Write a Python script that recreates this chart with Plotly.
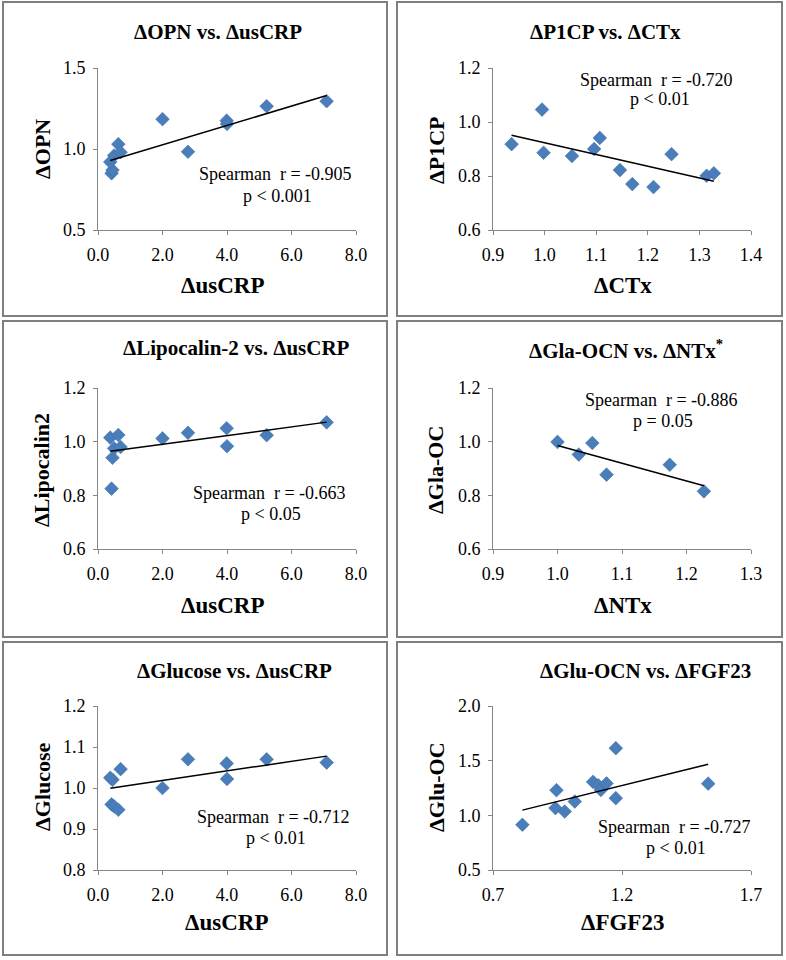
import plotly.graph_objects as go

W, H = 786, 960

# ---------------- data ----------------
uscrp = [0.42, 0.45, 0.38, 0.50, 0.63, 0.70, 2.00, 2.79, 3.99, 4.00, 5.23, 7.09]
opn = [0.85, 0.87, 0.92, 0.96, 1.03, 0.98, 1.184, 0.983, 1.175, 1.155, 1.264, 1.295]
lipocalin2 = [0.825, 0.94, 1.015, 0.975, 1.025, 0.98, 1.012, 1.033, 1.05, 0.983, 1.024, 1.072]
glucose = [0.96, 1.02, 1.025, 0.955, 0.947, 1.046, 1.0, 1.07, 1.06, 1.022, 1.07, 1.062]

ctx = [0.936, 0.995, 0.998, 1.053, 1.096, 1.107, 1.146, 1.170, 1.211, 1.246, 1.314, 1.328]
p1cp = [0.918, 1.046, 0.886, 0.874, 0.900, 0.941, 0.822, 0.770, 0.759, 0.881, 0.801, 0.810]

ntx = [1.0, 1.033, 1.054, 1.076, 1.174, 1.227]
gla_oc = [0.999, 0.952, 0.995, 0.877, 0.914, 0.815]

fgf23 = [0.814, 0.946, 0.942, 0.978, 1.017, 1.088, 1.108, 1.118, 1.140, 1.176, 1.176, 1.534]
glu_oc = [0.914, 1.23, 1.066, 1.035, 1.126, 1.306, 1.275, 1.232, 1.292, 1.157, 1.614, 1.29]

# linear trend-line coefficients (slope, intercept)
trend_opn = [0.0598, 0.906]
trend_p1cp = [-0.4357, 1.359]
trend_lipo = [0.0162, 0.958]
trend_gla = [-0.661, 1.647]
trend_glucose = [0.01167, 0.995]
trend_glu = [0.583, 0.573]

titles = ["ΔOPN vs. ΔusCRP", "ΔP1CP vs. ΔCTx", "ΔLipocalin-2 vs. ΔusCRP",
          "ΔGla-OCN vs. ΔNTx<sup>*</sup>", "ΔGlucose vs. ΔusCRP", "ΔGlu-OCN vs. ΔFGF23"]
xtitles = ["ΔusCRP", "ΔCTx", "ΔusCRP", "ΔNTx", "ΔusCRP", "ΔFGF23"]
ytitles = ["ΔOPN", "ΔP1CP", "ΔLipocalin2", "ΔGla-OC", "ΔGlucose", "ΔGlu-OC"]
stat_r = ["Spearman  r = -0.905", "Spearman  r = -0.720", "Spearman  r = -0.663",
          "Spearman  r = -0.886", "Spearman  r = -0.712", "Spearman  r = -0.727"]
stat_p = ["p &lt; 0.001", "p &lt; 0.01", "p &lt; 0.05", "p = 0.05", "p &lt; 0.01", "p &lt; 0.01"]

x_ranges = [[0, 8], [0.9, 1.4], [0, 8], [0.9, 1.3], [0, 8], [0.7, 1.7]]
x_dticks = [2, 0.1, 2, 0.1, 2, 0.5]
y_ranges = [[0.5, 1.5], [0.6, 1.2], [0.6, 1.2], [0.6, 1.2], [0.8, 1.2], [0.5, 2.0]]
y_dticks = [0.5, 0.2, 0.2, 0.2, 0.1, 0.5]

panels = [(uscrp, opn, trend_opn), (ctx, p1cp, trend_p1cp),
          (uscrp, lipocalin2, trend_lipo), (ntx, gla_oc, trend_gla),
          (uscrp, glucose, trend_glucose), (fgf23, glu_oc, trend_glu)]

# ---------------- layout geometry (pixels) ----------------
col_left = [3, 397]
col_right = [387, 782]
row_top = [2, 321, 642]
row_bot = [316, 637, 955]
plot_x = [(98, 356), (493, 751)]
plot_y = [(68, 230), (388, 549), (706, 870)]

title_pos = [(218, 32), (605, 32), (236, 348), (626, 349), (234, 671), (645, 671)]
xt_pos = [(222, 285), (623, 285), (222, 605), (623, 605), (226, 922), (622, 922)]
yt_pos = [(42, 149), (436, 150), (42, 470), (436, 470), (42, 787), (436, 787)]
r_pos = [(275, 174), (656, 80), (269, 493), (661, 400), (273, 817), (674, 827)]
p_pos = [(277, 196), (660, 99), (271, 514), (663, 421), (276, 838), (676, 848)]


def px(x):
    return x / W


def py(y):
    return 1 - y / H


FONT = "Liberation Serif"
BLUE = "#4A7EBB"
AXIS = "#868686"

fig = go.Figure()
annotations = []
shapes = []

for i, (xs, ys, tr) in enumerate(panels):
    n = i + 1
    xa = "x" if n == 1 else f"x{n}"
    ya = "y" if n == 1 else f"y{n}"
    fig.add_trace(go.Scatter(
        x=xs, y=ys, mode="markers", xaxis=xa, yaxis=ya,
        marker=dict(symbol="diamond", size=10.5, color=BLUE,
                    line=dict(width=0.6, color="#3E6FA8")),
        showlegend=False, hoverinfo="x+y"))
    x0, x1 = min(xs), max(xs)
    fig.add_trace(go.Scatter(
        x=[x0, x1], y=[tr[0] * x0 + tr[1], tr[0] * x1 + tr[1]],
        mode="lines", xaxis=xa, yaxis=ya,
        line=dict(color="black", width=1.5), showlegend=False, hoverinfo="skip"))

    r, c = divmod(i, 2)
    xd = [px(plot_x[c][0]), px(plot_x[c][1])]
    yd = [py(plot_y[r][1]), py(plot_y[r][0])]
    xkey = "xaxis" if n == 1 else f"xaxis{n}"
    ykey = "yaxis" if n == 1 else f"yaxis{n}"
    common = dict(showline=True, linecolor=AXIS, linewidth=1, showgrid=False,
                  zeroline=False, ticks="outside", ticklen=4, tickcolor=AXIS,
                  tickwidth=1, tickfont=dict(family=FONT, size=18, color="black"),
                  tickformat=".1f", fixedrange=True, automargin=False)
    fig.update_layout(**{
        xkey: dict(domain=xd, anchor=ya, range=x_ranges[i], dtick=x_dticks[i],
                   tick0=x_ranges[i][0], ticklabelstandoff=4, **common),
        ykey: dict(domain=yd, anchor=xa, range=y_ranges[i], dtick=y_dticks[i],
                   tick0=y_ranges[i][0], ticklabelstandoff=4, **common),
    })

    shapes.append(dict(type="rect", xref="paper", yref="paper",
                       x0=px(col_left[c]), x1=px(col_right[c]),
                       y0=py(row_bot[r]), y1=py(row_top[r]),
                       line=dict(color="#7F7F7F", width=2)))

    def ann(text, pos, size, bold=False, angle=0):
        annotations.append(dict(
            text=f"<b>{text}</b>" if bold else text, x=px(pos[0]), y=py(pos[1]),
            xref="paper", yref="paper", showarrow=False, xanchor="center",
            yanchor="middle", textangle=angle,
            font=dict(family=FONT, size=size, color="black")))

    ann(titles[i], title_pos[i], 21, bold=True)
    ann(xtitles[i], xt_pos[i], 23, bold=True)
    ann(ytitles[i], yt_pos[i], 22, bold=True, angle=-90)
    ann(stat_r[i], r_pos[i], 18)
    ann(stat_p[i], p_pos[i], 18)

fig.update_layout(width=W, height=H, margin=dict(l=0, r=0, t=0, b=0, autoexpand=False),
                  template="none",
                  paper_bgcolor="white", plot_bgcolor="white",
                  annotations=annotations, shapes=shapes, showlegend=False)

fig.write_html("out.html", config={"displayModeBar": False},
               post_script="document.body.style.margin='0';document.body.style.padding='0';")
